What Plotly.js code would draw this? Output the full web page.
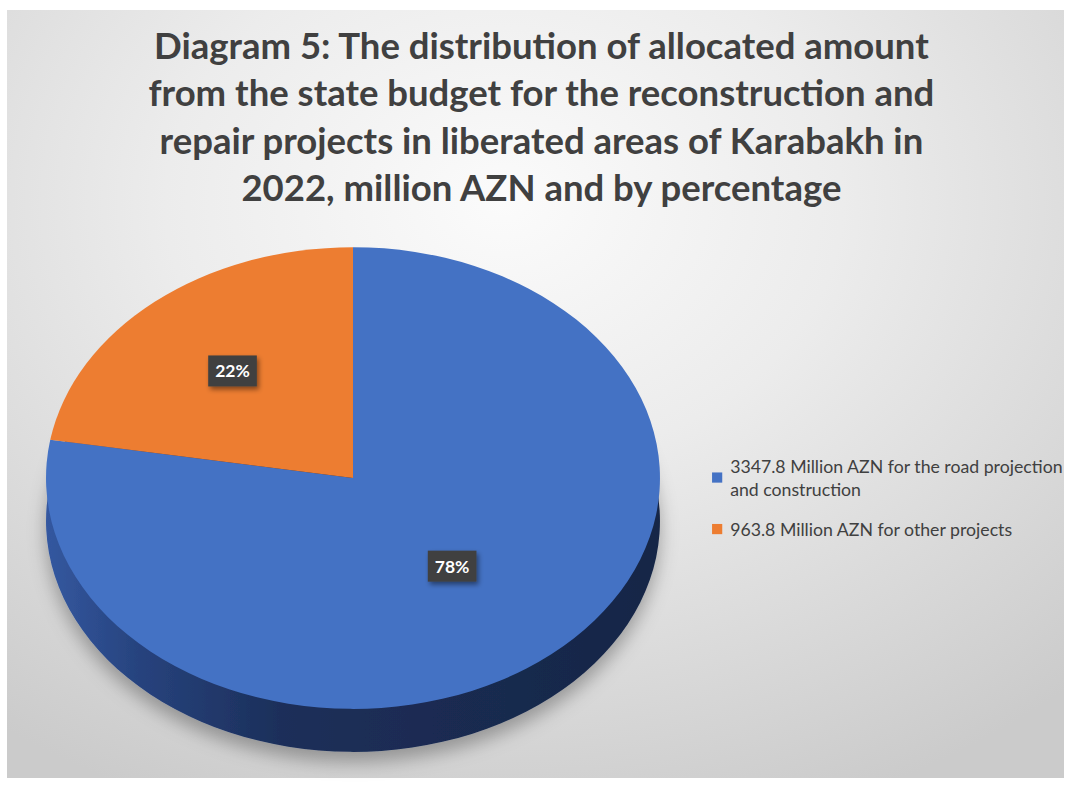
<!DOCTYPE html>
<html><head><meta charset="utf-8">
<script src="https://cdn.plot.ly/plotly-3.0.1.min.js"></script>
<style>
html,body{margin:0;padding:0;background:#fff;}
#bg{position:absolute;left:7px;top:10px;width:1057px;height:768px;
  background:radial-gradient(ellipse 80% 85% at 47% 25%, #fbfbfb 0%, #ececec 40%, #cbcbcb 100%);}
#chart{position:absolute;left:0;top:0;width:1070px;height:787px;}
</style></head><body>
<div id="bg"></div><div id="chart"></div>
<script>
// ---- data ----
const categories = [
  '3347.8 Million AZN for the road projection<br>and construction',
  '963.8 Million AZN for other projects'
];
const amounts = [3347.8, 963.8];
const sliceColors = ['#4472c4', '#ed7d31'];
const sideColors = ['#1b2c54', '#1b2c54'];
const titleText = 'Diagram 5: The distribution of allocated amount<br>' +
  'from the state budget for the reconstruction and<br>' +
  'repair projects in liberated areas of Karabakh in<br>' +
  '2022, million AZN and by percentage';

const pieDomain = {x: [0.043, 0.6168], y: [0.0025, 0.7827]};

const sideTrace = {
  type: 'pie', labels: categories, values: amounts, sort: false,
  direction: 'clockwise', rotation: 0, domain: pieDomain,
  marker: {colors: sideColors, line: {width: 0}},
  textinfo: 'none', hoverinfo: 'skip', showlegend: false
};
const topTrace = {
  type: 'pie', labels: categories, values: amounts, sort: false,
  direction: 'clockwise', rotation: 0, domain: pieDomain,
  marker: {colors: sliceColors, line: {width: 0}},
  texttemplate: '%{percent:.0%}', textposition: 'inside',
  insidetextorientation: 'horizontal',
  textfont: {family: 'Lato', size: 17.5, color: '#ffffff', weight: 700},
  hoverinfo: 'label+percent'
};

const layout = {
  width: 1070, height: 787,
  margin: {l: 0, r: 0, t: 0, b: 0},
  paper_bgcolor: 'rgba(0,0,0,0)', plot_bgcolor: 'rgba(0,0,0,0)',
  title: {
    text: titleText,
    font: {family: 'Lato, Open Sans, sans-serif', size: 36.5, color: '#404040', weight: 700},
    x: 0.506, xanchor: 'center', xref: 'paper',
    y: 0.925, yanchor: 'top', yref: 'container'
  },
  legend: {
    x: 0.645, xanchor: 'left', y: 0.4307, yanchor: 'top',
    bgcolor: 'rgba(0,0,0,0)',
    font: {family: 'Lato', size: 17.7, color: '#404040'},
    itemwidth: 30
  },
  showlegend: true
};

Plotly.newPlot('chart', [sideTrace, topTrace], layout, {staticPlot: true}).then(function(gd) {
  const k = 0.752, depth = 43;
  const NS = 'http://www.w3.org/2000/svg';
  const svg = gd.querySelector('.main-svg');
  const defs = document.createElementNS(NS, 'defs');
  defs.innerHTML =
    '<linearGradient id="sideGrad" x1="0" y1="0" x2="1" y2="0">' +
      '<stop offset="0" stop-color="#3458a0"/>' +
      '<stop offset="0.15" stop-color="#27437e"/>' +
      '<stop offset="0.38" stop-color="#1c2f5a"/>' +
      '<stop offset="1" stop-color="#172646"/>' +
    '</linearGradient>' +
    '<filter id="pieShadow" x="-20%" y="-20%" width="140%" height="150%">' +
      '<feDropShadow dx="0" dy="10" stdDeviation="9" flood-color="#000" flood-opacity="0.3"/>' +
    '</filter>' +
    '<filter id="lblShadow" x="-30%" y="-40%" width="170%" height="200%">' +
      '<feDropShadow dx="2" dy="3" stdDeviation="2.5" flood-color="#000" flood-opacity="0.45"/>' +
    '</filter>';
  svg.insertBefore(defs, svg.firstChild);

  const traces = gd.querySelectorAll('.pielayer .trace');
  let y0 = Infinity, y1 = -Infinity;
  traces[1].querySelectorAll('path.surface').forEach(function(p) {
    const b = p.getBBox();
    y0 = Math.min(y0, b.y); y1 = Math.max(y1, b.y + b.height);
  });
  const cy = (y0 + y1) / 2;

  traces[0].querySelectorAll('path.surface').forEach(function(p) {
    p.setAttribute('transform', 'translate(0,' + (cy + depth) + ') scale(1,' + k + ') translate(0,' + (-cy) + ')');
    p.style.fill = 'url(#sideGrad)';
  });
  traces[0].setAttribute('filter', 'url(#pieShadow)');

  traces[1].querySelectorAll('path.surface').forEach(function(p) {
    p.setAttribute('transform', 'translate(0,' + cy + ') scale(1,' + k + ') translate(0,' + (-cy) + ')');
  });
  traces[1].querySelectorAll('g.slicetext').forEach(function(g) {
    const b = g.getBBox();
    const ty = b.y + b.height / 2;
    g.setAttribute('transform', 'translate(0,' + ((k - 1) * (ty - cy)) + ')');
    const r = document.createElementNS(NS, 'rect');
    r.setAttribute('x', b.x - 7);
    r.setAttribute('y', b.y - 5);
    r.setAttribute('width', b.width + 14);
    r.setAttribute('height', b.height + 10);
    r.setAttribute('fill', '#404040');
    r.setAttribute('filter', 'url(#lblShadow)');
    g.insertBefore(r, g.firstChild);
  });

  // legend: light panel, swatch nearer the text, extra spacing between entries
  const leg = gd.querySelector('.legend');
  if (leg) {
    leg.querySelectorAll('[clip-path]').forEach(function(el) { el.removeAttribute('clip-path'); });
    const items = leg.querySelectorAll('g.traces');
    if (items.length > 1) {
      const t = items[1].getAttribute('transform') || '';
      const m = /translate\(([-\d.]+),\s*([-\d.]+)\)/.exec(t);
      if (m) items[1].setAttribute('transform', 'translate(' + m[1] + ',' + (parseFloat(m[2]) + 14) + ')');
    }
    leg.querySelectorAll('g.legendpoints').forEach(function(lp) {
      lp.setAttribute('transform', 'translate(10,0) scale(0.85)');
    });
    const bg = leg.querySelector('rect.bg');
    if (bg) {
      bg.setAttribute('x', 17);
      bg.setAttribute('width', 363);
      bg.setAttribute('height', 120);
      bg.style.fill = 'rgba(255,255,255,0.3)';
      bg.style.strokeWidth = '0';
    }
  }
});
</script>
</body></html>
